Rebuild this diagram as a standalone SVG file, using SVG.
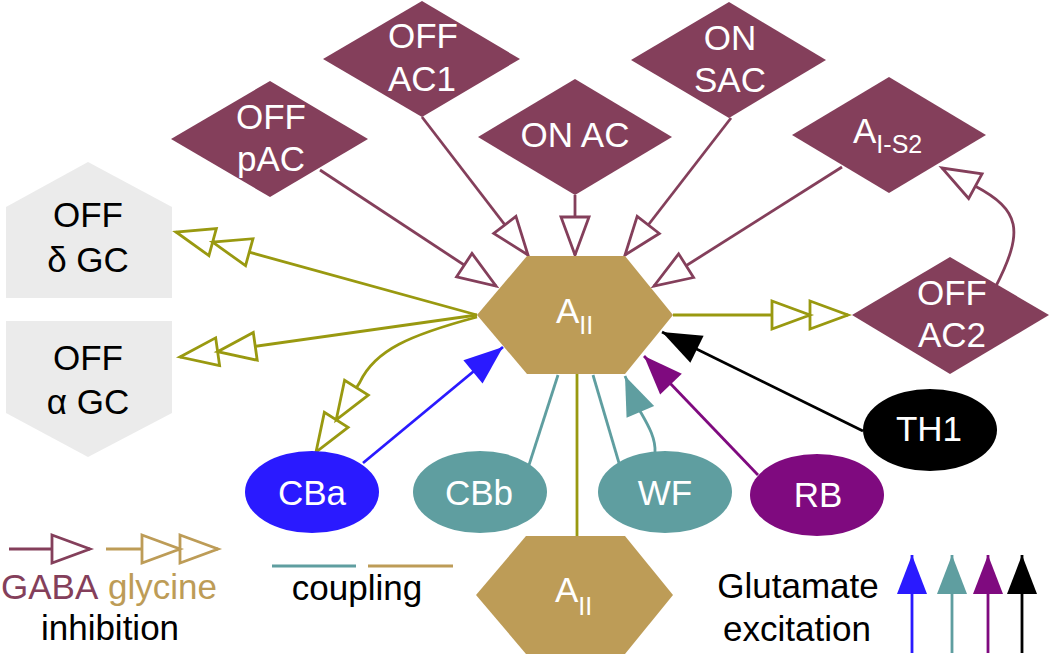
<svg xmlns="http://www.w3.org/2000/svg" width="1050" height="655" viewBox="0 0 1050 655">
<style>
text{font-family:"Liberation Sans",Arial,sans-serif;font-size:35px;text-anchor:middle}
.w{fill:#ffffff}
.k{fill:#000000}
.sub{font-size:25px}
.ac{fill:#843f5b}
.aii{fill:#bd9c57}
.gc{fill:#ebebeb}
.e{fill:none;stroke-width:2.8}
.gaba{stroke:#843f5b}
.gly{stroke:#999910}
.tl{stroke:#5f9ea0}
.bl{stroke:#2a1aff}
.pu{stroke:#7f0a7f}
.bk{stroke:#000000}
</style>
<defs>
<marker id="mGaba" markerUnits="userSpaceOnUse" markerWidth="40" markerHeight="30" viewBox="0 0 40 30" refX="39" refY="15" orient="auto" overflow="visible"><path d="M1,1 L39,15 L1,29 Z" fill="#fff" stroke="#843f5b" stroke-width="2.8"/></marker>
<marker id="mGly" markerUnits="userSpaceOnUse" markerWidth="78" markerHeight="30" viewBox="0 0 78 30" refX="77" refY="15" orient="auto" overflow="visible"><path d="M1,1 L39,15 L1,29 Z M39,1 L77,15 L39,29 Z" fill="#fff" stroke="#999910" stroke-width="2.8"/></marker>
<marker id="mGlyL" markerUnits="userSpaceOnUse" markerWidth="78" markerHeight="30" viewBox="0 0 78 30" refX="77" refY="15" orient="auto" overflow="visible"><path d="M1,1 L39,15 L1,29 Z M39,1 L77,15 L39,29 Z" fill="#fff" stroke="#bd9c57" stroke-width="2.8"/></marker>
<marker id="mBl" markerUnits="userSpaceOnUse" markerWidth="40" markerHeight="32" viewBox="0 0 40 32" refX="39" refY="16" orient="auto" overflow="visible"><path d="M0,1 L39,16 L0,31 Z" fill="#2a1aff"/></marker>
<marker id="mTl" markerUnits="userSpaceOnUse" markerWidth="40" markerHeight="32" viewBox="0 0 40 32" refX="39" refY="16" orient="auto" overflow="visible"><path d="M0,1 L39,16 L0,31 Z" fill="#5f9ea0"/></marker>
<marker id="mPu" markerUnits="userSpaceOnUse" markerWidth="40" markerHeight="32" viewBox="0 0 40 32" refX="39" refY="16" orient="auto" overflow="visible"><path d="M0,1 L39,16 L0,31 Z" fill="#7f0a7f"/></marker>
<marker id="mBk" markerUnits="userSpaceOnUse" markerWidth="40" markerHeight="32" viewBox="0 0 40 32" refX="39" refY="16" orient="auto" overflow="visible"><path d="M0,1 L39,16 L0,31 Z" fill="#000"/></marker>
</defs>
<rect width="1050" height="655" fill="#fff"/>

<g id="connectors">
<path class="e gaba" d="M320,170 L496,286" marker-end="url(#mGaba)"/>
<path class="e gaba" d="M422,117 L528,255" marker-end="url(#mGaba)"/>
<path class="e gaba" d="M575,195 L575,255" marker-end="url(#mGaba)"/>
<path class="e gaba" d="M731,118 L625,255" marker-end="url(#mGaba)"/>
<path class="e gaba" d="M842,167 L654,286" marker-end="url(#mGaba)"/>
<path class="e gaba" d="M995,288 C1025,230 1020,210 975,186 L942,168" marker-end="url(#mGaba)"/>
<path class="e gly" d="M673,315 L848,315" marker-end="url(#mGly)"/>
<path class="e gly" d="M477,315 L176,232" marker-end="url(#mGly)"/>
<path class="e gly" d="M477,315 L180,357" marker-end="url(#mGly)"/>
<path class="e gly" d="M477,317 C410,335 375,350 360,382 L316,452" marker-end="url(#mGly)"/>
<path class="e gly" d="M577,374 L577,537"/>
<path class="e tl" d="M529,465 L558,375"/>
<path class="e tl" d="M619,463 L593,375"/>
<path class="e tl" d="M655,453 C656,438 648,425 640,411 L625,376" marker-end="url(#mTl)"/>
<path class="e bl" d="M363,463 L503,347" marker-end="url(#mBl)"/>
<path class="e pu" d="M758,475 L644,356" marker-end="url(#mPu)"/>
<path class="e bk" d="M863,431 L662,332" marker-end="url(#mBk)"/>
</g>

<g id="OFFpAC"><path class="ac" d="M171,139 L270,81 L368,139 L270,197 Z"/><text class="w" x="271" y="129">OFF</text><text class="w" x="271" y="171">pAC</text></g>
<g id="OFFAC1"><path class="ac" d="M323,59 L422,1 L520,59 L422,117 Z"/><text class="w" x="423" y="48">OFF</text><text class="w" x="422" y="91">AC1</text></g>
<g id="ONAC"><path class="ac" d="M478,137 L575,79 L672,137 L575,195 Z"/><text class="w" x="575" y="147">ON AC</text></g>
<g id="ONSAC"><path class="ac" d="M631,60 L729,2 L826,60 L729,118 Z"/><text class="w" x="730" y="50">ON</text><text class="w" x="730" y="92">SAC</text></g>
<g id="AIS2"><path class="ac" d="M792,135 L889,77 L986,135 L889,193 Z"/><text class="w" x="853" y="143" style="text-anchor:start">A<tspan class="sub" dy="10">I-S2</tspan></text></g>
<g id="OFFAC2"><path class="ac" d="M852,315 L950,257 L1049,315 L950,374 Z"/><text class="w" x="952" y="305">OFF</text><text class="w" x="952" y="347">AC2</text></g>

<g id="AII"><path class="aii" d="M477,315 L527,256 L625,256 L673,315 L625,374 L527,374 Z"/><text class="w" x="556" y="323" style="text-anchor:start">A<tspan class="sub" dy="11">II</tspan></text></g>
<g id="AII2"><path class="aii" d="M476,595 L526,536 L625,536 L673,595 L625,654 L526,654 Z"/><text class="w" x="555" y="602" style="text-anchor:start">A<tspan class="sub" dy="13">II</tspan></text></g>

<g id="OFFdGC"><path class="gc" d="M6,207 L88,162 L172,207 L172,298 L6,298 Z"/><text class="k" x="88" y="227">OFF</text><text class="k" x="88" y="272">δ GC</text></g>
<g id="OFFaGC"><path class="gc" d="M6,321 L172,321 L172,413 L88,457 L6,413 Z"/><text class="k" x="88" y="370">OFF</text><text class="k" x="88" y="414">α GC</text></g>

<g id="CBa"><ellipse cx="312" cy="492" rx="67" ry="41" fill="#2a1aff"/><text class="w" x="312" y="505">CBa</text></g>
<g id="CBb"><ellipse cx="480" cy="492" rx="67" ry="41" fill="#5f9ea0"/><text class="w" x="479" y="505">CBb</text></g>
<g id="WF"><ellipse cx="665" cy="492" rx="67" ry="41" fill="#5f9ea0"/><text class="w" x="665" y="505">WF</text></g>
<g id="RB"><ellipse cx="817" cy="495" rx="67" ry="41" fill="#7f0a7f"/><text class="w" x="818" y="507">RB</text></g>
<g id="TH1"><ellipse cx="930" cy="430" rx="67" ry="41" fill="#000"/><text class="w" x="929" y="441">TH1</text></g>

<g id="legend">
<path class="e gaba" d="M9,549 L90,549" marker-end="url(#mGaba)"/>
<path class="e" stroke="#bd9c57" d="M106,549 L218,549" marker-end="url(#mGlyL)"/>
<text x="1" y="599" fill="#843f5b" style="text-anchor:start">GABA</text>
<text x="108" y="599" fill="#bd9c57" style="text-anchor:start">glycine</text>
<text class="k" x="110" y="640">inhibition</text>
<path class="e tl" d="M272,566 L356,566"/>
<path class="e" stroke="#bd9c57" d="M368,566 L453,566"/>
<text class="k" x="357" y="600">coupling</text>
<text class="k" x="798" y="598">Glutamate</text>
<text class="k" x="797" y="641">excitation</text>
<path class="e bl" d="M912,653 L912,555" marker-end="url(#mBl)"/>
<path class="e tl" d="M952,653 L952,555" marker-end="url(#mTl)"/>
<path class="e pu" d="M988,653 L988,555" marker-end="url(#mPu)"/>
<path class="e bk" d="M1022,653 L1022,555" marker-end="url(#mBk)"/>
</g>
</svg>
